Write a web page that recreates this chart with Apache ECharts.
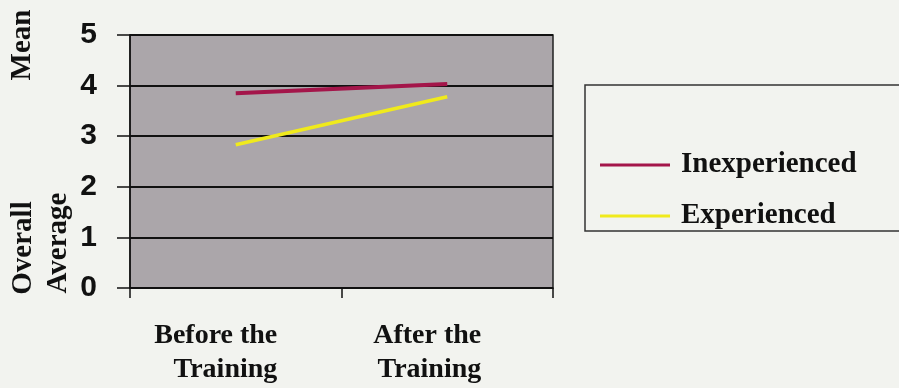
<!DOCTYPE html>
<html>
<head>
<meta charset="utf-8">
<script src="https://cdn.jsdelivr.net/npm/echarts@6/dist/echarts.min.js"></script>
<style>
html,body{margin:0;padding:0;background:#f2f3ef;}
#c{width:899px;height:388px;}
</style>
</head>
<body>
<div id="c"></div>
<script>
var categories = ['Before the\nTraining', 'After the\nTraining'];
var seriesNames = ['Inexperienced', 'Experienced'];
var inexperienced = [3.85, 4.03];
var experienced = [2.83, 3.78];
var yTicks = [0, 1, 2, 3, 4, 5];

var chart = echarts.init(document.getElementById('c'));
var serif = 'Liberation Serif, Times New Roman, serif';
var option = {
  backgroundColor: '#f2f3ef',
  animation: false,
  grid: {
    left: 130, top: 35, right: 346, bottom: 100,
    show: true, backgroundColor: '#aba6aa', borderColor: '#222', borderWidth: 1.5
  },
  xAxis: {
    type: 'category',
    data: categories,
    boundaryGap: true,
    axisLine: { lineStyle: { color: '#111', width: 1.5 } },
    axisTick: { show: true, length: 10, lineStyle: { color: '#111', width: 1.5 } },
    axisLabel: {
      margin: 31,
      padding: [0, 40, 0, 0],
      formatter: function (v) {
        return v.split('\n').map(function (s) { return '{a|' + s + '}'; }).join('\n');
      },
      rich: {
        a: { align: 'right', fontSize: 28, fontWeight: 'bold', fontFamily: serif, color: '#111', lineHeight: 34 }
      }
    }
  },
  yAxis: {
    type: 'value',
    min: yTicks[0], max: yTicks[yTicks.length - 1], interval: 1,
    axisLine: { show: true, lineStyle: { color: '#111', width: 1.5 } },
    axisTick: { show: true, length: 13, lineStyle: { color: '#111', width: 1.5 } },
    splitLine: { show: true, lineStyle: { color: '#111', width: 2 } },
    axisLabel: { margin: 33, fontSize: 30, fontWeight: 'bold', fontFamily: 'Liberation Sans, Arial, sans-serif', color: '#111' }
  },
  legend: {
    data: seriesNames,
    orient: 'vertical',
    left: 595, top: 145,
    icon: 'rect', itemWidth: 70, itemHeight: 3, itemGap: 21,
    textStyle: { fontSize: 29, fontWeight: 'bold', fontFamily: serif, color: '#111', lineHeight: 30, padding: [0, 0, 0, 6] }
  },
  series: [
    { name: seriesNames[0], type: 'line', data: inexperienced, symbol: 'none', color: '#a4154a',
      lineStyle: { width: 4, color: '#a4154a' } },
    { name: seriesNames[1], type: 'line', data: experienced, symbol: 'none', color: '#f0ea1c',
      lineStyle: { width: 3.5, color: '#f0ea1c' } }
  ],
  graphic: [
    { type: 'rect', shape: { x: 585, y: 85, width: 330, height: 146 },
      style: { fill: 'none', stroke: '#333', lineWidth: 1.5 }, z: 0 },
    { type: 'text', x: 24, y: 248, rotation: Math.PI / 2,
      style: { text: 'Overall', font: 'bold 29px ' + serif, fill: '#111', align: 'center', verticalAlign: 'middle' } },
    { type: 'text', x: 59, y: 243, rotation: Math.PI / 2,
      style: { text: 'Average', font: 'bold 29px ' + serif, fill: '#111', align: 'center', verticalAlign: 'middle' } },
    { type: 'text', x: 23, y: 45, rotation: Math.PI / 2,
      style: { text: 'Mean', font: 'bold 29px ' + serif, fill: '#111', align: 'center', verticalAlign: 'middle' } }
  ]
};
chart.setOption(option);
</script>
</body>
</html>
